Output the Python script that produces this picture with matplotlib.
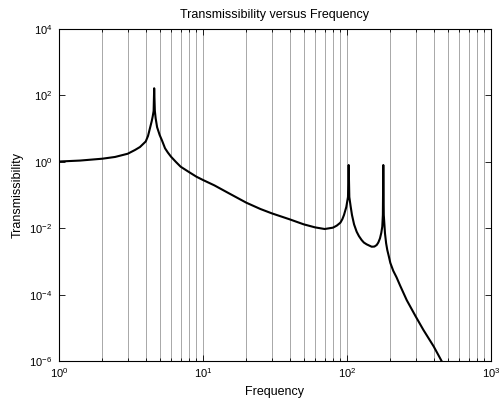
import numpy as np
import matplotlib.pyplot as plt
from matplotlib.ticker import LogLocator, NullLocator, FixedLocator

plt.rcParams['font.family'] = ['Liberation Sans', 'DejaVu Sans']
plt.rcParams['mathtext.default'] = 'regular'
plt.rcParams['font.size'] = 8

# frequency (Hz) and transmissibility
freq = [1.0, 1.40, 2.0, 2.45, 3.0, 3.37, 3.65, 4.0, 4.15, 4.28, 4.40, 4.47, 4.54, 4.58,
        4.63, 4.69, 4.80, 5.0, 5.2, 5.45, 5.7, 6.0, 6.5, 7.0, 8.0, 9.0, 10.0, 12.0,
        15.0, 20.0, 25.0, 30.0, 40.0, 50.0, 60.0, 70.0, 80.0, 85.0, 90.0, 93.0, 95.3,
        98.9, 101.6, 102.7, 103.8, 106.1, 108.3, 112.0, 116.7, 121.0, 126.4, 131.0,
        136.9, 148.4, 155.0, 160.8, 165.0, 169.5, 173.0, 175.8, 177.5, 178.7, 180.1,
        183.6, 187.0, 190.5, 195.0, 200.0, 209.6, 221.0, 233.5, 260.0, 300.0, 339.0,
        400.0, 454.0, 500.0]
trans = [1.02, 1.09, 1.24, 1.40, 1.75, 2.27, 2.79, 4.09, 6.0, 10.2, 16.5, 22.8, 33.9, 164.0,
         34.0, 20.4, 11.0, 6.42, 4.3, 2.55, 1.9, 1.42, 0.98, 0.71, 0.49, 0.356, 0.283, 0.195,
         0.115, 0.0586, 0.038, 0.0281, 0.0185, 0.0131, 0.0106, 0.00946, 0.0104, 0.0120, 0.0147,
         0.019, 0.025, 0.0435, 0.087, 0.80, 0.087, 0.0444, 0.025, 0.013, 0.00785, 0.0058,
         0.0044, 0.0037, 0.00327, 0.00277, 0.0028, 0.00312, 0.0037, 0.00496, 0.0072, 0.0111,
         0.025, 0.80, 0.025, 0.0070, 0.0035, 0.0022, 0.00145, 9.0e-4, 5.2e-4, 3.3e-4, 1.9e-4,
         6.8e-5, 2.2e-5, 8.7e-6, 2.75e-6, 1.0e-6, 4.5e-7]

fig = plt.figure(figsize=(5.01, 4.05), dpi=100)
ax = fig.add_axes([0.1178, 0.1086, 0.8622, 0.8198])

ax.loglog(freq, trans, color='black', lw=1.5)

ax.set_xlim(1, 1000)
ax.set_ylim(1e-6, 1e4)
ax.yaxis.set_major_locator(FixedLocator([1e-6, 1e-4, 1e-2, 1, 1e2, 1e4]))
ax.yaxis.set_minor_locator(NullLocator())
ax.xaxis.set_minor_locator(LogLocator(base=10, subs=np.arange(2, 10), numticks=20))

ax.grid(True, axis='x', which='both', color='#9a9a9a', lw=0.6, ls='-')
ax.tick_params(which='both', direction='in', top=True, right=True, labelsize=8)
ax.tick_params(which='major', length=4, width=0.6)
ax.tick_params(which='minor', length=2, width=0.6)
ax.tick_params(axis='x', pad=4)
ax.tick_params(axis='y', pad=5)
for s in ax.spines.values():
    s.set_linewidth(0.8)

ax.set_title('Transmissibility versus Frequency', fontsize=9, pad=8)
ax.set_xlabel('Frequency', fontsize=9, labelpad=4)
ax.set_ylabel('Transmissibility', fontsize=9, labelpad=4)

fig.savefig('out.png', dpi=100)
